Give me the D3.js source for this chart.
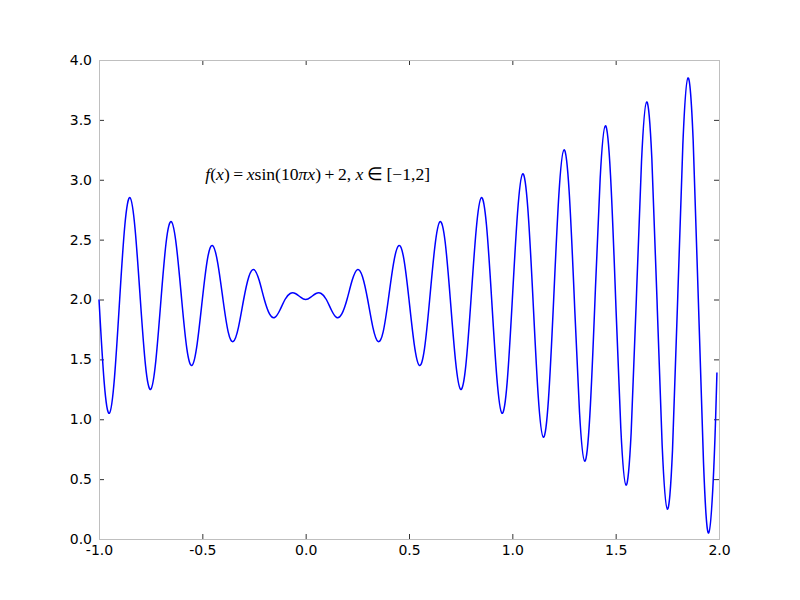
<!DOCTYPE html>
<html>
<head>
<meta charset="utf-8">
<script src="https://cdn.jsdelivr.net/npm/d3@7"></script>
<style>
  body { margin: 0; background: #fff; }
  .tick text { font-family: "DejaVu Sans", sans-serif; font-size: 14px; fill: #000; }
</style>
</head>
<body>
<svg id="chart"></svg>
<script>
// x positions (every quarter of a half wave)
const xs = [
  -1.000, -0.975, -0.950, -0.925, -0.900, -0.875, -0.850, -0.825, -0.800, -0.775,
  -0.750, -0.725, -0.700, -0.675, -0.650, -0.625, -0.600, -0.575, -0.550, -0.525,
  -0.500, -0.475, -0.450, -0.425, -0.400, -0.375, -0.350, -0.325, -0.300, -0.275,
  -0.250, -0.225, -0.200, -0.175, -0.150, -0.125, -0.100, -0.075, -0.050, -0.025,
   0.000,  0.025,  0.050,  0.075,  0.100,  0.125,  0.150,  0.175,  0.200,  0.225,
   0.250,  0.275,  0.300,  0.325,  0.350,  0.375,  0.400,  0.425,  0.450,  0.475,
   0.500,  0.525,  0.550,  0.575,  0.600,  0.625,  0.650,  0.675,  0.700,  0.725,
   0.750,  0.775,  0.800,  0.825,  0.850,  0.875,  0.900,  0.925,  0.950,  0.975,
   1.000,  1.025,  1.050,  1.075,  1.100,  1.125,  1.150,  1.175,  1.200,  1.225,
   1.250,  1.275,  1.300,  1.325,  1.350,  1.375,  1.400,  1.425,  1.450,  1.475,
   1.500,  1.525,  1.550,  1.575,  1.600,  1.625,  1.650,  1.675,  1.700,  1.725,
   1.750,  1.775,  1.800,  1.825,  1.850,  1.875,  1.900,  1.925,  1.950,  1.975,
   1.990
];
// curve values
const ys = [
  2.00, 1.31, 1.05, 1.35, 2.00, 2.62, 2.85, 2.58, 2.00, 1.45,
  1.25, 1.49, 2.00, 2.48, 2.65, 2.44, 2.00, 1.59, 1.45, 1.63,
  2.00, 2.34, 2.45, 2.30, 2.00, 1.73, 1.65, 1.77, 2.00, 2.19,
  2.25, 2.16, 2.00, 1.88, 1.85, 1.91, 2.00, 2.05, 2.05, 2.02,
  2.00, 2.02, 2.05, 2.05, 2.00, 1.91, 1.85, 1.88, 2.00, 2.16,
  2.25, 2.19, 2.00, 1.77, 1.65, 1.73, 2.00, 2.30, 2.45, 2.34,
  2.00, 1.63, 1.45, 1.59, 2.00, 2.44, 2.65, 2.48, 2.00, 1.49,
  1.25, 1.45, 2.00, 2.58, 2.85, 2.62, 2.00, 1.35, 1.05, 1.31,
  2.00, 2.72, 3.05, 2.76, 2.00, 1.20, 0.85, 1.17, 2.00, 2.87,
  3.25, 2.90, 2.00, 1.06, 0.65, 1.03, 2.00, 3.01, 3.45, 3.04,
  2.00, 0.92, 0.45, 0.89, 2.00, 3.15, 3.65, 3.18, 2.00, 0.78,
  0.25, 0.74, 2.00, 3.29, 3.85, 3.33, 2.00, 0.64, 0.05, 0.60,
  1.39
];
const xTicks = [-1.0, -0.5, 0.0, 0.5, 1.0, 1.5, 2.0];
const yTicks = [0.0, 0.5, 1.0, 1.5, 2.0, 2.5, 3.0, 3.5, 4.0];

const width = 800;
const height = 600;
const margin = { top: 60, right: 81, bottom: 61, left: 99 };
const innerW = width - margin.left - margin.right;
const innerH = height - margin.top - margin.bottom;

const svg = d3.select('#chart')
  .attr('width', width)
  .attr('height', height);

const g = svg.append('g')
  .attr('transform', `translate(${margin.left},${margin.top})`);

const x = d3.scaleLinear().domain([-1, 2]).range([0, innerW]);
const y = d3.scaleLinear().domain([0, 4]).range([innerH, 0]);

// plain hyphen for negatives, like the original
const fmt = d => d.toFixed(1);

// axes, ticks pointing inward
function styleAxis(sel) {
  sel.select('.domain').remove();
  sel.selectAll('.tick line').attr('stroke', '#333');
}

g.append('g')
  .attr('transform', `translate(0,${innerH})`)
  .call(d3.axisBottom(x).tickValues(xTicks).tickFormat(fmt).tickSizeInner(-5).tickPadding(6))
  .call(styleAxis);

g.append('g')
  .call(d3.axisTop(x).tickValues(xTicks).tickFormat('').tickSizeInner(-5))
  .call(styleAxis);

g.append('g')
  .call(d3.axisLeft(y).tickValues(yTicks).tickFormat(fmt).tickSizeInner(-5).tickPadding(7))
  .call(styleAxis);

g.append('g')
  .attr('transform', `translate(${innerW},0)`)
  .call(d3.axisRight(y).tickValues(yTicks).tickFormat('').tickSizeInner(-5))
  .call(styleAxis);

// frame
g.append('rect')
  .attr('x', 0.5)
  .attr('y', 0.5)
  .attr('width', innerW)
  .attr('height', innerH)
  .attr('fill', 'none')
  .attr('stroke', '#bfbfbf')
  .attr('stroke-width', 1);

// the curve
const pts = xs.map((v, i) => [v, ys[i]]);
const line = d3.line()
  .x(d => x(d[0]))
  .y(d => y(d[1]))
  .curve(d3.curveNatural);

g.append('path')
  .datum(pts)
  .attr('d', line)
  .attr('fill', 'none')
  .attr('stroke', '#0000ff')
  .attr('stroke-width', 1.5);

// formula label
const label = g.append('text')
  .attr('x', x(-0.5) + 3)
  .attr('y', y(3.0))
  .style('font-family', '"Liberation Serif", serif')
  .style('font-size', '17.6px');

const parts = [
  ['f', true], ['(', false], ['x', true], [')\u2009=\u2009', false], ['x', true],
  ['sin(10', false], ['\u03c0x', true], [')\u2009+\u20092, ', false], ['x', true],
  ['\u2009\u2208\u2009[\u22121,2]', false]
];
parts.forEach(p => {
  label.append('tspan')
    .style('font-style', p[1] ? 'italic' : 'normal')
    .text(p[0]);
});
</script>
</body>
</html>
